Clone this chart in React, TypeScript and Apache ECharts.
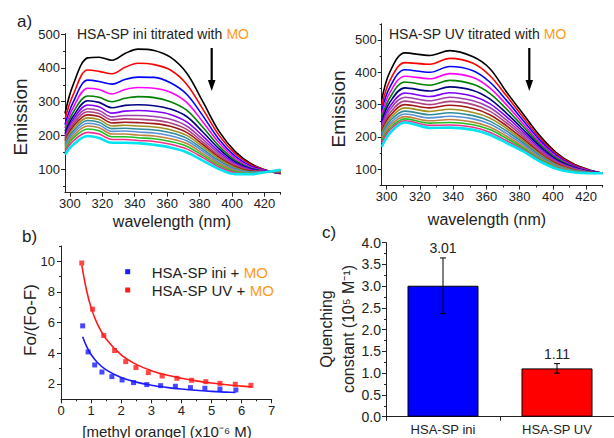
import React, { useEffect, useRef } from 'react';
import * as echarts from 'echarts';

const FONT = '"Liberation Sans", Arial, Helvetica, sans-serif';
const ORANGE = '#FF9A1A';
const INK = '#222222';

// ---------- panel a: emission spectra ----------
const iniWavelengths = [297, 302, 311, 318, 326, 334, 342, 352, 362, 372, 382, 392, 402, 412, 422, 430];
const iniCurves = [
  [265, 350, 430, 432, 423, 443, 456, 452, 432, 385, 300, 212, 152, 115, 95, 86],
  [248, 320, 394, 390, 383, 402, 414, 410, 394, 352, 278, 200, 145, 112, 95, 87],
  [232, 298, 364, 360, 352, 366, 373, 372, 356, 322, 258, 188, 138, 108, 94, 88],
  [222, 282, 340, 336, 323, 336, 342, 340, 328, 298, 240, 178, 132, 105, 94, 88],
  [212, 268, 317, 313, 300, 310, 315, 312, 300, 275, 224, 168, 126, 102, 93, 89],
  [205, 256, 303, 298, 282, 289, 291, 288, 278, 256, 210, 160, 121, 100, 93, 89],
  [198, 247, 290, 285, 266, 272, 274, 271, 262, 240, 198, 152, 117, 98, 93, 90],
  [193, 240, 279, 274, 255, 259, 259, 256, 248, 228, 188, 146, 113, 96, 92, 90],
  [188, 233, 270, 265, 246, 249, 248, 245, 237, 218, 180, 140, 110, 95, 92, 91],
  [183, 226, 261, 256, 237, 239, 238, 235, 227, 209, 173, 135, 107, 94, 92, 91],
  [178, 219, 252, 247, 228, 230, 228, 225, 217, 200, 166, 130, 104, 92, 92, 92],
  [173, 212, 244, 239, 220, 221, 219, 216, 208, 192, 159, 125, 101, 91, 92, 93],
  [168, 205, 236, 231, 212, 213, 210, 207, 199, 184, 153, 120, 98, 90, 92, 94],
  [163, 198, 228, 223, 204, 204, 201, 198, 190, 176, 146, 116, 95, 88, 92, 95],
  [158, 191, 219, 214, 196, 196, 193, 190, 182, 168, 140, 111, 92, 87, 92, 96],
  [152, 183, 209, 204, 188, 188, 185, 182, 174, 160, 134, 106, 89, 86, 92, 97],
  [143, 172, 198, 192, 178, 178, 177, 172, 164, 150, 125, 100, 85, 85, 92, 98],
];

const uvWavelengths = [297, 302, 311, 326, 338, 352, 362, 372, 382, 392, 402, 412, 422, 430];
const uvCurves = [
  [314, 402, 460, 452, 467, 448, 412, 340, 272, 205, 152, 118, 98, 88],
  [295, 375, 430, 425, 443, 428, 390, 328, 262, 198, 148, 116, 97, 88],
  [280, 355, 408, 400, 418, 405, 370, 314, 252, 191, 143, 113, 96, 88],
  [268, 338, 388, 380, 396, 384, 352, 300, 242, 184, 139, 111, 95, 88],
  [258, 322, 370, 360, 375, 363, 335, 287, 233, 178, 135, 109, 94, 88],
  [248, 308, 352, 342, 355, 344, 318, 274, 224, 172, 131, 107, 93, 88],
  [240, 295, 336, 325, 337, 326, 303, 263, 216, 166, 127, 105, 92, 88],
  [232, 285, 323, 312, 323, 312, 291, 253, 209, 161, 124, 103, 92, 88],
  [225, 275, 311, 300, 310, 300, 280, 244, 202, 156, 121, 101, 91, 88],
  [218, 266, 300, 290, 298, 288, 269, 235, 195, 151, 118, 99, 90, 88],
  [212, 258, 290, 279, 286, 276, 259, 227, 189, 147, 115, 98, 90, 88],
  [206, 250, 280, 269, 275, 266, 249, 219, 183, 143, 112, 96, 89, 88],
  [200, 242, 271, 259, 264, 256, 240, 211, 177, 139, 110, 95, 89, 88],
  [194, 235, 263, 250, 254, 246, 231, 203, 171, 135, 108, 94, 88, 88],
  [188, 228, 256, 243, 245, 238, 223, 196, 166, 131, 106, 93, 88, 88],
  [181, 222, 250, 236, 237, 230, 215, 189, 161, 128, 104, 92, 88, 88],
  [170, 212, 245, 228, 229, 222, 207, 182, 156, 125, 102, 91, 88, 88],
];

const curveColors = [
  '#000000', '#FF0000', '#0000FF', '#FF00FF', '#008000', '#000080', '#8000FF', '#A040B0',
  '#B04080', '#A01818', '#A09020', '#2E8C9A', '#5A90D8', '#C08040', '#20C020', '#F0308C', '#00E5F0',
];

const wavelengthMajor = [300, 320, 340, 360, 380, 400, 420];
const wavelengthMinor = [310, 330, 350, 370, 390, 410, 430];
const iniEmissionMajor = [100, 200, 300, 400, 500];
const iniEmissionMinor = [50, 150, 250, 350, 450];
const uvEmissionMajor = [100, 200, 300, 400, 500];
const uvEmissionMinor = [50, 150, 250, 350, 450, 550];

// ---------- panel b: Fo/(Fo-F) ----------
const moIniX = [0.72, 0.9, 1.12, 1.36, 1.69, 2.03, 2.41, 2.85, 3.31, 3.8, 4.3, 4.78, 5.28, 5.81];
const moIniY = [5.79, 4.09, 3.24, 2.78, 2.48, 2.26, 2.09, 1.96, 1.89, 1.85, 1.76, 1.72, 1.67, 1.61];
const moUvX = [0.69, 1.05, 1.42, 1.78, 2.15, 2.49, 2.9, 3.36, 3.85, 4.34, 4.81, 5.28, 5.79, 6.31];
const moUvY = [9.89, 6.88, 5.16, 4.18, 3.46, 3.07, 2.74, 2.52, 2.37, 2.24, 2.15, 2.04, 1.98, 1.91];
const fitIniX = [0.72, 0.85, 1.0, 1.2, 1.5, 2.0, 2.5, 3.0, 3.5, 4.0, 4.5, 5.0, 5.5, 5.8];
const fitIniY = [5.08, 4.45, 3.92, 3.42, 2.92, 2.42, 2.12, 1.92, 1.78, 1.67, 1.59, 1.52, 1.47, 1.44];
const fitUvX = [0.69, 0.85, 1.0, 1.2, 1.5, 2.0, 2.5, 3.0, 3.5, 4.0, 4.5, 5.0, 5.5, 6.0, 6.35];
const fitUvY = [9.75, 8.1, 6.98, 5.95, 4.93, 3.9, 3.28, 2.87, 2.58, 2.37, 2.2, 2.06, 1.95, 1.86, 1.8];
const concMajor = [0, 1, 2, 3, 4, 5, 6, 7];
const concMinor = [0.5, 1.5, 2.5, 3.5, 4.5, 5.5, 6.5];
const ratioMajor = [2, 4, 6, 8, 10];
const ratioMinor = [3, 5, 7, 9, 11];

// ---------- panel c: quenching constants ----------
const barCategories = ['HSA-SP ini', 'HSA-SP UV'];
const barValues = [3.01, 1.11];
const barErrors = [0.64, 0.11];
const barColors = ['#0000FF', '#FF0000'];
const kMajor = [0, 0.5, 1, 1.5, 2, 2.5, 3, 3.5, 4];
const kMinor = [0.25, 0.75, 1.25, 1.75, 2.25, 2.75, 3.25, 3.75];

const zip = (xs: number[], ys: number[]) => xs.map((x, i) => [x, ys[i]]);

function axisPair(
  kind: 'x' | 'y',
  gridIndex: number,
  min: number,
  max: number,
  majors: number[],
  minors: number[],
  fontSize: number,
  margin: number,
  fmt?: (v: number) => string
) {
  const base: any = {
    type: 'value',
    gridIndex,
    min,
    max,
    position: kind === 'x' ? 'bottom' : 'left',
    offset: 0,
    splitLine: { show: false },
    silent: true,
  };
  const major = {
    ...base,
    axisLine: { show: true, onZero: false, lineStyle: { color: INK, width: 1 } },
    axisTick: { show: true, length: 4, customValues: majors, lineStyle: { color: INK, width: 1 } },
    axisLabel: {
      show: true,
      customValues: majors,
      fontSize,
      margin,
      color: INK,
      fontFamily: FONT,
      formatter: fmt ? (v: number) => fmt(v) : (v: number) => String(v),
    },
  };
  const minor = {
    ...base,
    axisLine: { show: false, onZero: false },
    axisTick: { show: true, length: 2, customValues: minors, lineStyle: { color: INK, width: 1 } },
    axisLabel: { show: false },
  };
  return [major, minor];
}

export default function App() {
  const ref = useRef<HTMLDivElement>(null);

  useEffect(() => {
    if (!ref.current) return;
    const chart = echarts.init(ref.current, undefined, { renderer: 'svg' });

    const grids = [
      { left: 65, top: 33.6, width: 215.7, height: 159.1 },
      { left: 381.7, top: 23.8, width: 221, height: 161.7 },
      { left: 61, top: 246, width: 210.7, height: 153.3 },
      { left: 386, top: 242.7, width: 233, height: 174 },
    ];

    const xAxes: any[] = [
      ...axisPair('x', 0, 297, 430, wavelengthMajor, wavelengthMinor, 13, 4),
      ...axisPair('x', 1, 297, 430, wavelengthMajor, wavelengthMinor, 13, 4),
      ...axisPair('x', 2, 0, 7, concMajor, concMinor, 13, 5),
      {
        type: 'category',
        gridIndex: 3,
        data: barCategories,
        position: 'bottom',
        axisLine: { show: true, lineStyle: { color: INK, width: 1 } },
        axisTick: { show: true, length: 4, alignWithLabel: false, lineStyle: { color: INK } },
        axisLabel: { fontSize: 13, margin: 6, color: INK, fontFamily: FONT },
        splitLine: { show: false },
      },
    ];
    const yAxes: any[] = [
      ...axisPair('y', 0, 30, 502, iniEmissionMajor, iniEmissionMinor, 13, 5),
      ...axisPair('y', 1, 50, 550, uvEmissionMajor, uvEmissionMinor, 13, 5),
      ...axisPair('y', 2, 1, 11, ratioMajor, ratioMinor, 13, 6),
      ...axisPair('y', 3, 0, 4, kMajor, kMinor, 14, 5, (v) => v.toFixed(1)),
    ];

    const series: any[] = [];
    iniCurves.forEach((c, i) => {
      series.push({
        type: 'line',
        xAxisIndex: 0,
        yAxisIndex: 0,
        data: zip(iniWavelengths, c),
        smooth: 0.35,
        showSymbol: false,
        symbol: 'none',
        lineStyle: { color: curveColors[i], width: i === curveColors.length - 1 ? 2.6 : 1.6 },
        silent: true,
      });
    });
    uvCurves.forEach((c, i) => {
      series.push({
        type: 'line',
        xAxisIndex: 2,
        yAxisIndex: 2,
        data: zip(uvWavelengths, c),
        smooth: 0.35,
        showSymbol: false,
        symbol: 'none',
        lineStyle: { color: curveColors[i], width: i === curveColors.length - 1 ? 2.6 : 1.6 },
        silent: true,
      });
    });

    series.push(
      {
        type: 'line',
        name: 'fit ini',
        xAxisIndex: 4,
        yAxisIndex: 4,
        data: zip(fitIniX, fitIniY),
        smooth: 0.4,
        showSymbol: false,
        symbol: 'none',
        lineStyle: { color: '#1A1AFF', width: 1.6 },
      },
      {
        type: 'line',
        name: 'fit UV',
        xAxisIndex: 4,
        yAxisIndex: 4,
        data: zip(fitUvX, fitUvY),
        smooth: 0.4,
        showSymbol: false,
        symbol: 'none',
        lineStyle: { color: '#FF1A1A', width: 1.6 },
      },
      {
        type: 'scatter',
        name: 'HSA-SP ini + MO',
        xAxisIndex: 4,
        yAxisIndex: 4,
        data: zip(moIniX, moIniY),
        symbol: 'rect',
        symbolSize: 5,
        itemStyle: { color: '#1A1AFF' },
      },
      {
        type: 'scatter',
        name: 'HSA-SP UV + MO',
        xAxisIndex: 4,
        yAxisIndex: 4,
        data: zip(moUvX, moUvY),
        symbol: 'rect',
        symbolSize: 5,
        itemStyle: { color: '#FF1A1A' },
      }
    );

    series.push(
      {
        type: 'bar',
        xAxisIndex: 6,
        yAxisIndex: 6,
        barWidth: 71,
        data: barValues.map((v, i) => ({ value: v, itemStyle: { color: barColors[i] } })),
        itemStyle: { borderColor: '#000', borderWidth: 1 },
      },
      {
        type: 'custom',
        xAxisIndex: 6,
        yAxisIndex: 6,
        z: 10,
        data: barValues.map((v, i) => [i, v, barErrors[i]]),
        renderItem: (_p: any, api: any) => {
          const i = api.value(0);
          const v = api.value(1);
          const e = api.value(2);
          const top = api.coord([i, v + e]);
          const bot = api.coord([i, v - e]);
          const cap = 3;
          const ls = { stroke: '#000', lineWidth: 1 };
          return {
            type: 'group',
            children: [
              { type: 'line', shape: { x1: top[0], y1: top[1], x2: bot[0], y2: bot[1] }, style: ls },
              { type: 'line', shape: { x1: top[0] - cap, y1: top[1], x2: top[0] + cap, y2: top[1] }, style: ls },
              { type: 'line', shape: { x1: bot[0] - cap, y1: bot[1], x2: bot[0] + cap, y2: bot[1] }, style: ls },
              {
                type: 'text',
                style: {
                  text: v.toFixed(2),
                  x: top[0],
                  y: top[1] - 10,
                  align: 'center',
                  verticalAlign: 'middle',
                  fontSize: 14,
                  fontFamily: FONT,
                  fill: INK,
                },
              },
            ],
          };
        },
      }
    );

    const txt = (x: number, y: number, text: string, fontSize: number, extra: any = {}) => ({
      type: 'text',
      x,
      y,
      rotation: extra.rotation || 0,
      silent: true,
      style: {
        text,
        fontSize,
        fontFamily: FONT,
        fill: INK,
        align: extra.align || 'center',
        verticalAlign: 'middle',
        rich: extra.rich,
      },
    });
    const moRich = (size: number) => ({
      a: { fontSize: size, fontFamily: FONT, fill: INK, color: INK },
      b: { fontSize: size, fontFamily: FONT, fill: ORANGE, color: ORANGE },
    });

    const arrow = (x: number) => [
      { type: 'line', silent: true, shape: { x1: x, y1: 48, x2: x, y2: 84 }, style: { stroke: '#000', lineWidth: 2.2 } },
      {
        type: 'polygon',
        silent: true,
        shape: { points: [[x - 3.8, 80], [x + 3.8, 80], [x, 91]] },
        style: { fill: '#000' },
      },
    ];

    const graphic: any[] = [
      txt(17, 21, 'a)', 17, { align: 'left' }),
      txt(22, 236, 'b)', 17, { align: 'left' }),
      txt(322, 232, 'c)', 17, { align: 'left' }),
      txt(77, 34, '{a|HSA-SP ini titrated with }{b|MO}', 14, { align: 'left', rich: moRich(14) }),
      txt(389, 34, '{a|HSA-SP UV titrated with }{b|MO}', 14, { align: 'left', rich: moRich(14) }),
      ...arrow(211.7),
      ...arrow(529.3),
      txt(20, 117, 'Emission', 19, { rotation: Math.PI / 2 }),
      txt(338, 109, 'Emission', 19, { rotation: Math.PI / 2 }),
      txt(172, 221, 'wavelength (nm)', 16),
      txt(487, 219, 'wavelength (nm)', 16),
      txt(30, 320, 'Fo/(Fo-F)', 17, { rotation: Math.PI / 2 }),
      txt(167, 431, '[methyl orange] (x10\u207B\u2076 M)', 15),
      txt(326, 329, 'Quenching', 16, { rotation: Math.PI / 2 }),
      txt(348, 329, 'constant (10\u2075 M\u207B\u00B9)', 16, { rotation: Math.PI / 2 }),
      { type: 'rect', silent: true, shape: { x: 125.2, y: 269.2, width: 5, height: 5 }, style: { fill: '#1A1AFF' } },
      { type: 'rect', silent: true, shape: { x: 125.2, y: 287.5, width: 5, height: 5 }, style: { fill: '#FF1A1A' } },
      txt(151.7, 272, '{a|HSA-SP ini + }{b|MO}', 15, { align: 'left', rich: moRich(15) }),
      txt(151.7, 290, '{a|HSA-SP UV + }{b|MO}', 15, { align: 'left', rich: moRich(15) }),
    ];

    chart.setOption({
      animation: false,
      backgroundColor: '#ffffff',
      grid: grids,
      xAxis: xAxes,
      yAxis: yAxes,
      series,
      graphic,
    });

    return () => chart.dispose();
  }, []);

  return (
    <div
      ref={ref}
      style={{ position: 'fixed', left: 0, top: 0, width: 614, height: 438, background: '#fff' }}
    />
  );
}
